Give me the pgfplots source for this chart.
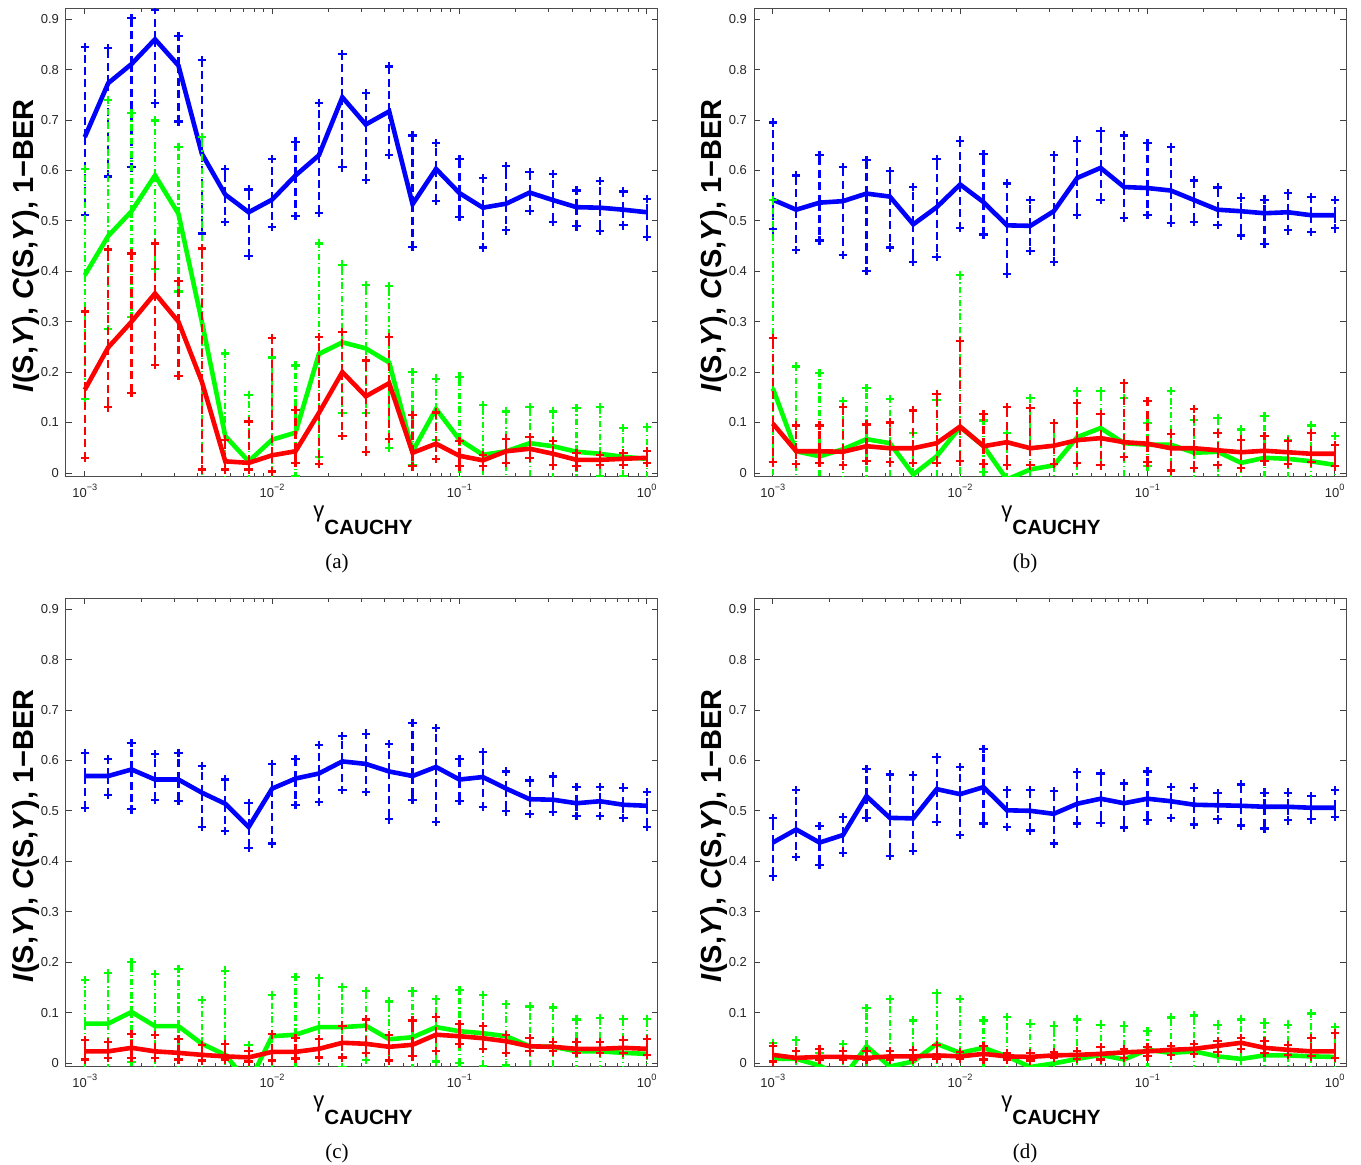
\documentclass[border=0pt]{standalone}
\usepackage{pgfplots}
\pgfplotsset{compat=1.18}
\usepackage{pgfplotstable}
\usepackage{fontspec}
\setmainfont{Liberation Sans}
\newfontfamily\capfont{Liberation Serif}

% columns: x, mean/upper/lower for I(S,Y) (b), C(S,Y) (g), 1-BER (r)
\pgfplotstableread{
x b bh bl g gh gl r rh rl
0.001    .666 .844 .512  .392 .603 .146  .165 .320 .030
0.001334 .773 .842 .588  .470 .740 .285  .249 .443 .130
0.001778 .811 .902 .606  .519 .713 .310  .300 .435 .158
0.002371 .860 .918 .733  .590 .699 .405  .356 .455 .214
0.003162 .808 .867 .697  .514 .646 .360  .300 .380 .193
0.004217 .633 .819 .475  .300 .666 -.06  .181 .445 .007
0.005623 .552 .602 .498  .073 .237 -.09  .023 .066 .007
0.007499 .517 .562 .430  .023 .155 -.11  .020 .102 .007
0.01     .542 .622 .488  .066 .229 -.10  .035 .267 .003
0.01334  .590 .657 .509  .080 .213 -.006 .043 .125 .020
0.01778  .630 .734 .516  .236 .455 .031  .119 .270 .018
0.02371  .745 .830 .606  .259 .413 .119  .200 .280 .073
0.03162  .691 .753 .581  .247 .372 .119  .152 .223 .041
0.04217  .717 .806 .631  .219 .371 .049  .178 .269 .067
0.05623  .533 .669 .448  .043 .200 .016  .040 .115 .013
0.07499  .603 .654 .539  .127 .187 .065  .058 .120 .028
0.1      .555 .622 .508  .066 .191 -.06  .034 .063 .013
0.1334   .526 .585 .447  .036 .134 -.06  .025 .036 .013
0.1778   .534 .608 .481  .043 .122 -.036 .043 .068 .020
0.2371   .556 .597 .519  .059 .131 -.013 .048 .071 .030
0.3162   .541 .593 .498  .053 .122 -.016 .038 .063 .015
0.4217   .527 .560 .489  .042 .129 -.045 .026 .040 .013
0.5623   .526 .579 .480  .038 .131 -.006 .026 .036 .016
0.7499   .522 .558 .491  .032 .089 -.006 .028 .040 .016
1        .517 .543 .468  .028 .091 -.035 .030 .043 .020
}\tabA

\pgfplotstableread{
x b bh bl g gh gl r rh rl
0.001    .542 .695 .483  .168 .541 -.20  .098 .267 .021
0.001334 .522 .590 .442  .043 .211 -.125 .043 .094 .018
0.001778 .536 .631 .461  .033 .198 -.13  .043 .094 .020
0.002371 .539 .606 .432  .047 .143 -.05  .042 .131 .015
0.003162 .554 .620 .400  .067 .168 -.035 .053 .096 .024
0.004217 .548 .598 .447  .059 .147 -.03  .049 .100 .021
0.005623 .493 .567 .419  -.003 .080 -.086 .049 .124 .020
0.007499 .527 .623 .428  .033 .145 -.08  .059 .157 .020
0.01     .572 .659 .486  .091 .392 -.21  .092 .262 .023
0.01334  .537 .633 .473  .053 .104 .002  .053 .117 .018
0.01778  .491 .574 .394  -.013 .079 -.105 .061 .131 .015
0.02371  .490 .541 .440  .007 .148 -.134 .049 .129 .015
0.03162  .519 .630 .419  .015 .099 -.069 .054 .099 .018
0.04217  .585 .659 .511  .071 .162 -.02  .065 .138 .020
0.05623  .605 .678 .541  .089 .163 .015  .069 .117 .015
0.07499  .567 .669 .506  .059 .148 -.03  .061 .178 .032
0.1      .565 .654 .511  .056 .099 .013  .058 .142 .021
0.1334   .560 .646 .496  .056 .162 -.05  .049 .078 .005
0.1778   .541 .580 .498  .040 .105 -.025 .049 .127 .010
0.2371   .522 .566 .492  .042 .109 -.025 .045 .079 .016
0.3162   .519 .546 .471  .020 .086 -.046 .041 .066 .010
0.4217   .515 .542 .454  .030 .113 -.053 .044 .073 .023
0.5623   .517 .555 .481  .028 .066 -.01  .041 .063 .018
0.7499   .511 .547 .478  .023 .094 -.048 .038 .079 .021
1        .511 .541 .485  .016 .073 -.041 .038 .056 .013
}\tabB

\pgfplotstableread{
x b bh bl g gh gl r rh rl
0.001    .569 .615 .506  .078 .165 -.009 .023 .045 .007
0.001334 .569 .602 .532  .078 .178 -.022 .023 .042 .010
0.001778 .582 .634 .503  .101 .200 .002  .030 .058 .010
0.002371 .562 .613 .521  .073 .176 -.03  .023 .056 .010
0.003162 .562 .615 .519  .073 .186 -.04  .020 .047 .007
0.004217 .536 .589 .468  .038 .125 -.049 .016 .036 .005
0.005623 .514 .562 .460  .016 .183 -.15  .013 .038 .007
0.007499 .468 .516 .427  -.040 .036 -.116 .011 .023 .003
0.01     .544 .593 .435  .053 .135 -.03  .022 .058 .005
0.01334  .564 .602 .511  .056 .171 -.06  .022 .049 .009
0.01778  .574 .631 .517  .071 .168 -.026 .028 .048 .011
0.02371  .598 .648 .541  .071 .150 -.008 .040 .074 .011
0.03162  .593 .653 .537  .074 .142 .006  .038 .086 .020
0.04217  .578 .633 .483  .047 .122 -.028 .032 .056 .005
0.05623  .569 .674 .522  .051 .142 -.04  .036 .084 .013
0.07499  .587 .664 .478  .071 .127 .003  .056 .091 .024
0.1      .562 .603 .519  .063 .145 .000  .053 .077 .038
0.1334   .567 .616 .508  .059 .135 -.006 .049 .073 .028
0.1778   .544 .578 .499  .053 .117 -.005 .043 .056 .020
0.2371   .523 .560 .494  .033 .112 -.046 .033 .049 .023
0.3162   .522 .568 .498  .032 .110 -.046 .032 .042 .023
0.4217   .515 .547 .490  .023 .086 -.04  .028 .042 .020
0.5623   .519 .547 .490  .023 .089 -.043 .028 .041 .020
0.7499   .512 .546 .486  .020 .087 -.047 .030 .046 .020
1        .510 .537 .468  .018 .087 -.051 .028 .047 .016
}\tabC

\pgfplotstableread{
x b bh bl g gh gl r rh rl
0.001    .437 .486 .370  .008 .040 -.024 .016 .034 .003
0.001334 .463 .541 .409  .008 .046 -.03  .010 .023 .008
0.001778 .437 .470 .392  -.005 .020 -.03 .012 .028 .007
0.002371 .452 .488 .417  -.030 .038 -.098 .012 .023 .007
0.003162 .529 .583 .486  .033 .109 -.043 .010 .023 .007
0.004217 .486 .572 .411  -.007 .127 -.14 .013 .023 .007
0.005623 .485 .571 .420  .003 .084 -.078 .013 .025 .007
0.007499 .543 .606 .478  .038 .138 -.062 .015 .035 .008
0.01     .533 .587 .452  .020 .127 -.087 .013 .021 .008
0.01334  .547 .623 .475  .030 .084 -.024 .018 .034 .007
0.01778  .501 .541 .468  .013 .091 -.065 .013 .020 .007
0.02371  .500 .541 .461  -.008 .078 -.094 .012 .020 .005
0.03162  .494 .539 .435  -.001 .074 -.076 .015 .021 .010
0.04217  .514 .577 .475  .008 .086 -.07  .016 .024 .008
0.05623  .524 .574 .476  .016 .076 -.044 .018 .032 .007
0.07499  .515 .554 .467  .007 .074 -.06  .021 .028 .010
0.1      .524 .578 .481  .026 .063 -.011 .023 .032 .013
0.1334   .519 .547 .486  .020 .090 -.05  .026 .034 .015
0.1778   .512 .546 .473  .023 .094 -.048 .028 .038 .018
0.2371   .511 .535 .483  .013 .076 -.05  .034 .043 .021
0.3162   .510 .552 .471  .008 .086 -.07  .040 .049 .028
0.4217   .508 .536 .465  .015 .080 -.05  .030 .043 .020
0.5623   .508 .536 .481  .015 .076 -.046 .026 .036 .016
0.7499   .506 .529 .483  .013 .098 -.072 .023 .049 .013
1        .506 .541 .488  .012 .071 -.047 .023 .059 .010
}\tabD

\newcommand\pw[1]{10\raisebox{0.55em}{\fontsize{4.6}{5}\selectfont #1}}
\newcommand\ylab{\fontsize{14.5}{16}\selectfont\bfseries\textit{I}(S,\textit{Y}), \textit{C}(S,\textit{Y}), 1−BER}
\newcommand\xlab{{\fontsize{11}{12}\selectfont γ}\raisebox{-8.5pt}{\fontsize{10.3}{12}\selectfont\bfseries CAUCHY}}

% shared look of all four panels
\pgfplotsset{
  every axis/.append style={
    scale only axis, width=296pt, height=234.5pt, anchor=south west,
    xmin=7.94e-4, xmax=1.148,
    ymin=-0.008, ymax=0.922,
    xtick={0.001,0.01,0.1,1},
    xticklabels={\pw{−3},\pw{−2},\pw{−1},\pw{0}},
    ytick={0,0.1,0.2,0.3,0.4,0.5,0.6,0.7,0.8,0.9},
    yticklabels={0,0.1,0.2,0.3,0.4,0.5,0.6,0.7,0.8,0.9},
    tick align=inside,
    major tick length=3pt, minor tick length=1.8pt,
    every tick/.style={line width=0.4pt, black!75},
    axis line style={line width=0.5pt, black!70},
    tick label style={font=\fontsize{6.5}{7}\selectfont, text=black!85},
    clip marker paths=true,
  },
}

% one quantity: mean curve with dashed spread bars, '+' at both ends of each bar
\newcommand\oneseries[4]{% table, colour, dash pattern, column stem
  \addplot[#2, line width=2.3pt, mark=none,
    error bars/.cd, y dir=both, y explicit, error mark=none,
    error bar style={#2, line width=1.1pt, #3}]
    table[x=x, y=#4, y error plus expr=\thisrow{#4h}-\thisrow{#4}, y error minus expr=\thisrow{#4}-\thisrow{#4l}] {#1};
  \addplot[#2, only marks, mark=+, mark size=2.1pt, mark options={solid, line width=1.1pt}]
    table[x=x, y=#4h] {#1};
  \addplot[#2, only marks, mark=+, mark size=2.1pt, mark options={solid, line width=1.1pt}]
    table[x=x, y=#4l] {#1};
}
\newcommand\threeseries[1]{%
  \oneseries{#1}{blue}{dash pattern=on 4pt off 2.2pt}{b}
  \oneseries{#1}{green}{dash pattern=on 3.2pt off 1.4pt on 0.7pt off 1.4pt}{g}
  \oneseries{#1}{red}{dash pattern=on 4pt off 2.2pt}{r}
}

\begin{document}
\begin{tikzpicture}
\path[use as bounding box] (0,0) rectangle (680.5pt,582.5pt);

\begin{semilogxaxis}[at={(33pt,344pt)}]
\threeseries{\tabA}
\end{semilogxaxis}
\begin{semilogxaxis}[at={(377pt,344pt)}]
\threeseries{\tabB}
\end{semilogxaxis}
\begin{semilogxaxis}[at={(33pt,49pt)}]
\threeseries{\tabC}
\end{semilogxaxis}
\begin{semilogxaxis}[at={(377pt,49pt)}]
\threeseries{\tabD}
\end{semilogxaxis}

% axis titles and sub-figure captions
\foreach \cx/\cy/\lab in {0/0/a, 344/0/b, 0/-295/c, 344/-295/d}{
  \node[rotate=90] at (\cx pt+13pt, \cy pt+459.5pt) {\ylab};
  \node[anchor=base west, inner sep=0pt] at (\cx pt+156.5pt, \cy pt+323.5pt) {\xlab};
  \node at (\cx pt+168.5pt, \cy pt+301pt) {\capfont\fontsize{10.5}{12}\selectfont (\lab)};
}
\end{tikzpicture}
\end{document}
